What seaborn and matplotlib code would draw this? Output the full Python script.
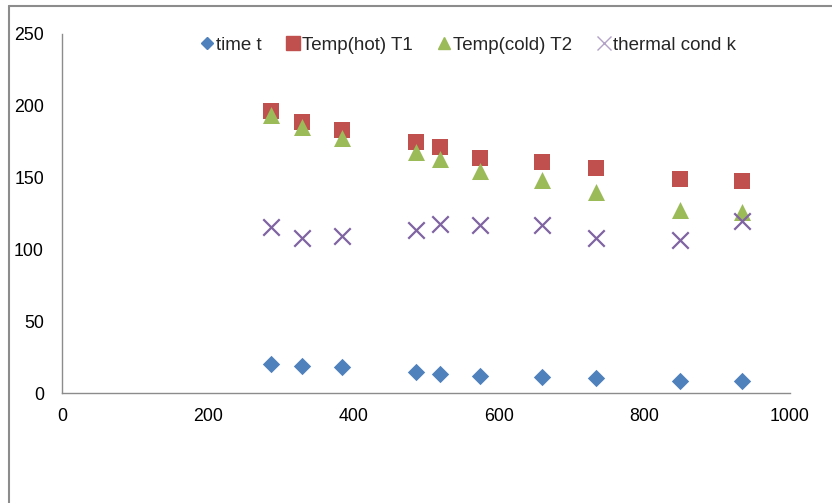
import matplotlib
matplotlib.use("Agg")
import matplotlib.pyplot as plt
import seaborn as sns
import pandas as pd
from matplotlib.lines import Line2D

x_vals = [287, 329, 385, 486, 519, 574, 659, 734, 849, 934]
time_t = [20.2, 19.0, 17.9, 14.8, 13.4, 12.0, 10.9, 10.2, 8.6, 8.6]
temp_hot = [196.6, 188.9, 183.1, 175.0, 171.1, 163.4, 160.7, 156.9, 148.8, 147.8]
temp_cold = [193.6, 185.4, 177.4, 167.6, 163.0, 154.4, 148.3, 140.2, 127.4, 125.8]
thermal_k = [115.4, 107.7, 109.3, 113.5, 117.5, 117.0, 117.0, 107.7, 106.5, 120.0]

series_names = ["time t", "Temp(hot) T1", "Temp(cold) T2", "thermal cond k"]
series_vals = [time_t, temp_hot, temp_cold, thermal_k]
x_ticks = [0, 200, 400, 600, 800, 1000]
y_ticks = [0, 50, 100, 150, 200, 250]

colors = ["#4F81BD", "#C0504D", "#9BBB59", "#8064A2"]
markers = ["D", "s", "^", "x"]
sizes = [78, 135, 150, 140]

sns.set_theme(style="white")
plt.rcParams["font.family"] = ["Liberation Sans", "DejaVu Sans"]

rows = []
for name, vals in zip(series_names, series_vals):
    for xv, yv in zip(x_vals, vals):
        rows.append({"x": xv, "y": yv, "series": name})
df = pd.DataFrame(rows)

fig = plt.figure(figsize=(8.32, 5.03), dpi=100)
ax = fig.add_axes([62 / 832, 1 - 393 / 503, 728 / 832, 359 / 503])

for name, c, m, s in zip(series_names, colors, markers, sizes):
    sub = df[df["series"] == name]
    kw = dict(linewidth=0)
    if m == "x":
        kw = dict(linewidth=1.6)
    sns.scatterplot(data=sub, x="x", y="y", ax=ax, color=c, marker=m, s=s,
                    legend=False, **kw)

ax.set_xlim(0, 1000)
ax.set_ylim(0, 250)
ax.set_xticks(x_ticks)
ax.set_yticks(y_ticks)
ax.set_xlabel("")
ax.set_ylabel("")
for sp in ["top", "right"]:
    ax.spines[sp].set_visible(False)
for sp in ["left", "bottom"]:
    ax.spines[sp].set_color("#8c8c8c")
    ax.spines[sp].set_linewidth(1.0)
ax.tick_params(axis="both", length=0, labelsize=12.8, colors="#000000")
ax.tick_params(axis="y", pad=13)
ax.tick_params(axis="x", pad=11)
ax.grid(False)

handles = [
    Line2D([], [], linestyle="none", marker="D", color=colors[0], markersize=6.5),
    Line2D([], [], linestyle="none", marker="s", color=colors[1], markersize=9.5),
    Line2D([], [], linestyle="none", marker="^", color=colors[2], markersize=9),
    Line2D([], [], linestyle="none", marker="x", color="#b3a2c7", markersize=10,
           markeredgewidth=1.0),
]
leg = ax.legend(handles, series_names, loc="center", bbox_to_anchor=(0.558, 0.968),
                ncol=4, frameon=False, fontsize=13.5, handlelength=0.7,
                handletextpad=0.15, columnspacing=1.3, borderaxespad=0)

fig.add_artist(Line2D([8.5 / 832, 8.5 / 832], [0, 1 - 6 / 503], color="#8c8c8c",
                      linewidth=1.5, transform=fig.transFigure))
fig.add_artist(Line2D([8.5 / 832, 1], [1 - 6 / 503, 1 - 6 / 503], color="#8c8c8c",
                      linewidth=1.5, transform=fig.transFigure))

fig.savefig("out.png", dpi=100)
